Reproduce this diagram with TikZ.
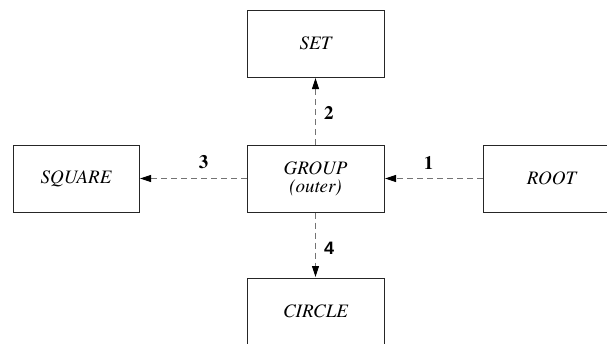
\documentclass[tikz,border=0pt]{standalone}
\usepackage{fontspec}
\newfontfamily\timesf{texgyretermes}[Extension=.otf,UprightFont=*-regular,ItalicFont=*-italic,BoldFont=*-bold,BoldItalicFont=*-bolditalic]
\newfontfamily\labsans{Liberation Sans}
\usetikzlibrary{arrows.meta}
\begin{document}
\begin{tikzpicture}[x=1pt,y=1pt,
  box/.style={draw=black!85,line width=1pt,rectangle,minimum height=67pt,minimum width=137pt,
    inner sep=0pt,font=\timesf\fontsize{19}{18}\selectfont\itshape,align=center},
  conn/.style={draw=black!55,line width=1pt,dash pattern=on 6pt off 4pt,
    -{Triangle[length=11pt,width=7pt,fill=black,color=black]},shorten >=0.5pt},
  lab/.style={font=\timesf\fontsize{19}{19}\selectfont\bfseries,inner sep=0pt}]
\useasboundingbox (0,0) rectangle (607,-343);
\node[box] (set) at (315.5,-43.5) {SET};
\node[box] (group) at (315.5,-178.5) {GROUP\\(outer)};
\node[box,minimum width=126pt] (square) at (76,-178.5) {SQUARE};
\node[box] (root) at (551.5,-178.5) {ROOT};
\node[box] (circle) at (315.5,-311.5) {CIRCLE};
\draw[conn] (root.west) -- (group.east) node[lab,pos=0.55,above=9pt] (l1) {1};
\draw[conn] (group.west) -- (square.east) node[lab,pos=0.4,above=9pt] (l3) {3};
\draw[conn] (group.north) -- (set.south) node[lab,midway,right=8pt,yshift=-2pt] (l2) {2};
\draw[conn] (group.south) -- (circle.north) node[lab,midway,right=8pt,yshift=-3pt,font=\labsans\fontsize{18}{18}\selectfont\bfseries] (l4) {4};
\end{tikzpicture}
\end{document}
